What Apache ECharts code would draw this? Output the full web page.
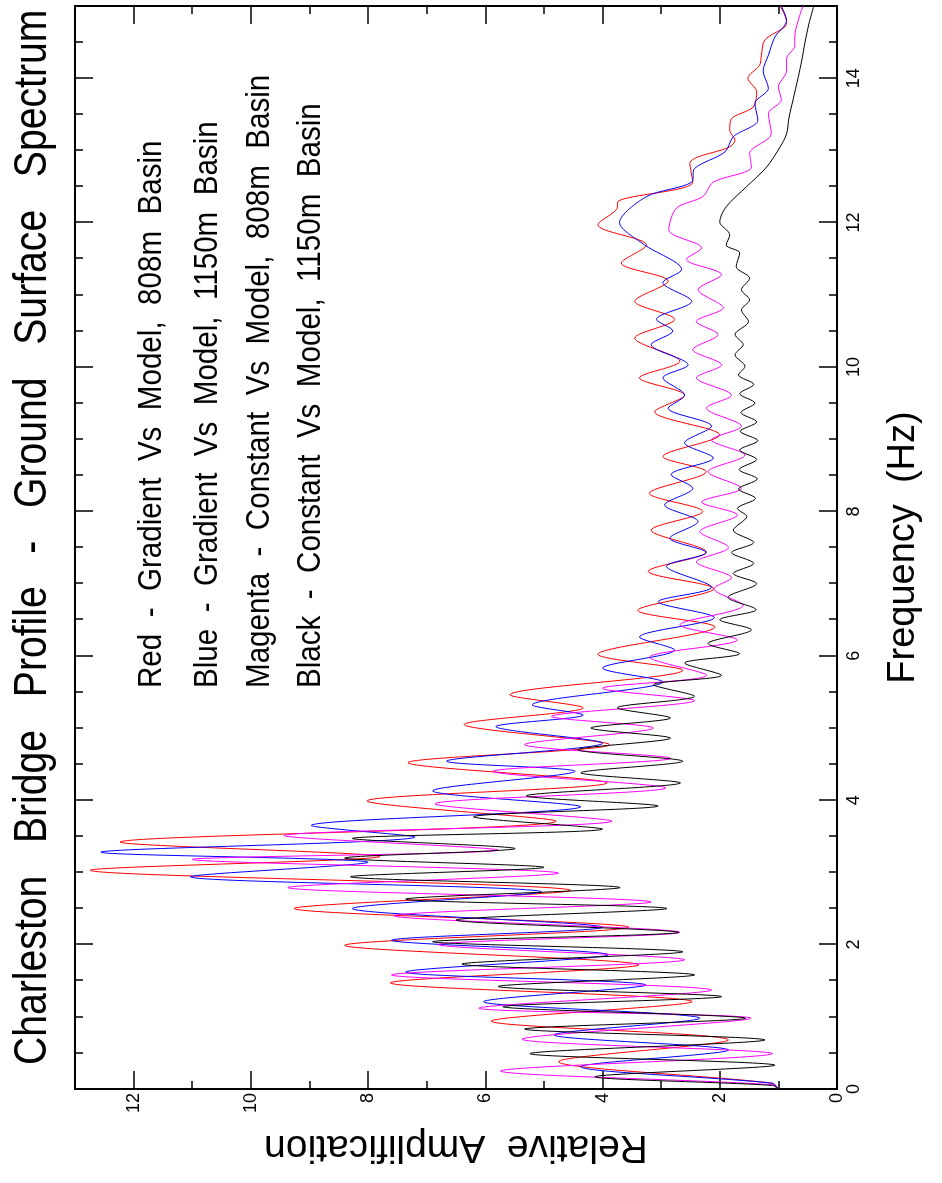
<!DOCTYPE html>
<html>
<head>
<meta charset="utf-8">
<script src="https://cdn.jsdelivr.net/npm/echarts@6/dist/echarts.min.js"></script>
<style>
html,body{margin:0;padding:0;width:942px;height:1183px;overflow:hidden;background:#fff;}
#wrap{position:absolute;left:0;top:0;width:1183px;height:942px;transform-origin:0 0;transform:translate(0px,1183px) rotate(-90deg);}
#chart{width:1183px;height:942px;}
</style>
</head>
<body>
<div id="wrap"><div id="chart"></div></div>
<script>
// ---- text ----
const titleText = 'Charleston   Bridge   Profile   -   Ground   Surface   Spectrum';
const legendLines = [
  'Red  -  Gradient  Vs  Model,  808m  Basin',
  'Blue  -  Gradient  Vs  Model,  1150m  Basin',
  'Magenta  -  Constant  Vs  Model,  808m  Basin',
  'Black  -  Constant  Vs  Model,  1150m  Basin'
];
const xName = 'Frequency  (Hz)';
const yName = 'Relative  Amplification';

// ---- data: [frequency Hz, relative amplification] read at the extrema of each curve ----
const redPts = [[0,1.0],[0.08,1.1],[0.38,4.75],[0.68,1.85],[0.94,5.9],[1.21,2.47],[1.47,7.62],[1.72,3.38],[1.99,8.4],[2.24,3.55],[2.50,9.26],[2.75,4.54],[3.03,12.74],[3.22,7.8],[3.42,12.23],[3.71,4.79],[3.99,8.02],[4.24,3.92],[4.52,7.32],[4.77,3.88],[5.05,6.36],[5.28,4.33],[5.46,5.58],[5.80,2.63],[6.02,4.08],[6.40,2.08],[6.63,3.40],[6.93,2.10],[7.17,3.22],[7.44,2.23],[7.74,3.17],[8.00,2.29],[8.25,3.20],[8.55,2.23],[8.76,2.97],[9.06,2.00],[9.38,3.11],[9.61,2.60],[9.85,3.37],[10.08,2.68],[10.40,3.45],[10.66,2.77],[10.91,3.45],[11.19,2.88],[11.44,3.68],[11.69,3.25],[11.97,4.08],[12.20,3.75],[12.29,3.74],[12.56,2.46],[12.82,2.51],[13.05,1.83],[13.14,1.74],[13.28,1.83],[13.44,1.80],[13.60,1.43],[13.81,1.37],[14.00,1.52],[14.18,1.32],[14.32,1.29],[14.53,1.23],[14.71,0.89],[14.78,0.86],[15.0,0.97]];

const bluePts = [[0,1.0],[0.08,1.1],[0.31,4.37],[0.54,1.85],[0.75,4.83],[0.98,2.34],[1.21,6.03],[1.44,3.26],[1.62,7.36],[1.86,3.9],[2.06,7.6],[2.24,4.0],[2.50,8.27],[2.73,5.04],[2.94,11.03],[3.14,8.0],[3.28,12.56],[3.49,7.2],[3.65,8.97],[3.91,4.37],[4.13,6.9],[4.40,4.47],[4.54,6.66],[4.79,4.0],[5.02,5.82],[5.18,4.33],[5.32,5.2],[5.64,2.97],[5.83,4.0],[6.08,2.77],[6.26,3.37],[6.53,2.09],[6.75,3.05],[6.95,2.14],[7.24,2.91],[7.43,2.23],[7.63,2.85],[7.86,2.37],[8.09,2.94],[8.32,2.46],[8.51,2.83],[8.74,2.11],[8.95,2.6],[9.18,2.14],[9.43,2.88],[9.61,2.6],[9.85,2.97],[10.03,2.54],[10.31,3.17],[10.50,2.8],[10.66,3.08],[10.91,2.48],[11.17,2.97],[11.35,2.65],[11.70,3.3],[12.00,3.71],[12.36,3.25],[12.56,2.48],[12.75,2.43],[12.98,1.91],[13.19,1.77],[13.42,1.35],[13.65,1.4],[13.86,1.17],[14.10,1.26],[14.32,1.17],[14.57,1.06],[14.80,0.86],[15.0,0.95]];

const magentaPts = [[0,1.0],[0.06,1.1],[0.25,5.74],[0.49,1.1],[0.69,5.37],[0.98,1.47],[1.12,6.11],[1.37,2.14],[1.58,7.6],[1.79,2.6],[2.00,6.8],[2.17,2.68],[2.40,7.56],[2.59,3.17],[2.79,9.37],[2.99,4.75],[3.18,11.0],[3.31,5.78],[3.51,9.43],[3.71,3.84],[3.95,6.86],[4.17,2.92],[4.40,5.87],[4.58,2.84],[4.77,5.33],[5.00,3.13],[5.16,4.87],[5.38,2.43],[5.55,4.0],[5.73,2.22],[5.98,3.2],[6.22,1.7],[6.43,2.68],[6.70,1.6],[6.93,2.1],[7.08,1.8],[7.30,2.4],[7.50,1.85],[7.72,2.34],[7.95,1.7],[8.13,2.31],[8.32,1.63],[8.55,2.2],[8.78,1.57],[8.99,2.14],[9.18,1.63],[9.43,2.23],[9.61,1.8],[9.85,2.4],[10.03,1.97],[10.24,2.46],[10.45,2.03],[10.63,2.4],[10.82,1.94],[11.07,2.37],[11.28,1.97],[11.49,2.57],[11.65,2.31],[11.90,2.87],[12.20,2.74],[12.36,2.29],[12.56,2.11],[12.77,1.46],[12.96,1.49],[13.23,1.12],[13.51,1.17],[13.70,0.95],[13.88,1.0],[14.10,0.86],[14.27,0.86],[14.45,0.72],[14.57,0.72],[15.0,0.58]];

const blackPts = [[0,1.0],[0.05,1.1],[0.17,4.13],[0.33,1.06],[0.49,5.24],[0.68,1.23],[0.83,5.33],[0.98,1.56],[1.14,5.7],[1.28,1.97],[1.42,5.78],[1.58,2.43],[1.73,6.4],[1.90,2.63],[2.04,6.9],[2.17,2.7],[2.34,6.5],[2.50,2.9],[2.63,7.36],[2.79,3.7],[2.94,8.3],[3.07,5.0],[3.20,8.4],[3.33,5.49],[3.47,8.27],[3.60,4.0],[3.77,6.2],[3.92,3.05],[4.06,5.3],[4.24,2.67],[4.38,4.37],[4.54,2.63],[4.70,4.42],[4.86,2.84],[5.00,4.2],[5.14,2.84],[5.28,3.75],[5.44,2.43],[5.60,3.13],[5.73,1.97],[5.90,2.6],[6.03,1.66],[6.17,2.2],[6.36,1.46],[6.50,2.0],[6.64,1.38],[6.81,1.86],[7.00,1.37],[7.14,1.77],[7.28,1.42],[7.43,1.8],[7.57,1.42],[7.74,1.77],[7.93,1.54],[8.04,1.7],[8.18,1.39],[8.31,1.68],[8.45,1.36],[8.58,1.67],[8.72,1.37],[8.85,1.66],[8.98,1.35],[9.11,1.65],[9.24,1.37],[9.37,1.64],[9.50,1.4],[9.63,1.66],[9.76,1.42],[9.89,1.68],[10.01,1.57],[10.17,1.74],[10.31,1.6],[10.45,1.74],[10.63,1.51],[10.79,1.63],[10.93,1.49],[11.07,1.63],[11.23,1.49],[11.39,1.72],[11.58,1.66],[11.69,1.89],[11.83,1.83],[12.01,2.0],[12.22,1.89],[12.50,1.54],[12.77,1.2],[13.05,0.97],[13.23,0.86],[13.45,0.82],[13.70,0.75],[14.02,0.66],[14.25,0.6],[14.48,0.55],[14.75,0.48],[14.99,0.4]];

const seriesNames = ['Red', 'Blue', 'Magenta', 'Black'];
const seriesColors = ['#ff0000', '#0000ff', '#ff00ff', '#000000'];
const seriesData = [redPts, bluePts, magentaPts, blackPts];

// ---- axis ranges ----
const freqMin = 0, freqMax = 15;
const ampMin = 0, ampMax = 13;

const FONT = 'Liberation Sans, Arial, sans-serif';
const ink = '#000';

function freqAxis(pos, interval, tickLen, withLabels) {
  const ax = {
    type: 'value', position: pos, min: freqMin, max: freqMax, interval: interval,
    axisLine: { show: true, onZero: false, lineStyle: { color: ink, width: 2 } },
    axisTick: { show: true, inside: true, length: tickLen, lineStyle: { color: ink, width: 1.5 } },
    axisLabel: { show: false },
    splitLine: { show: false }
  };
  if (withLabels) {
    ax.axisLabel = { show: true, showMaxLabel: false, margin: 8, fontSize: 18, color: ink, fontFamily: FONT };
    ax.name = xName;
    ax.nameLocation = 'middle';
    ax.nameGap = 48;
    ax.nameTextStyle = { fontSize: 38, color: ink, fontFamily: FONT };
  }
  return ax;
}
function ampAxis(pos, interval, tickLen, withLabels) {
  const ax = {
    type: 'value', position: pos, min: ampMin, max: ampMax, interval: interval,
    axisLine: { show: true, onZero: false, lineStyle: { color: ink, width: 2 } },
    axisTick: { show: true, inside: true, length: tickLen, lineStyle: { color: ink, width: 1.5 } },
    axisLabel: { show: false },
    splitLine: { show: false }
  };
  if (withLabels) {
    ax.axisLabel = { show: true, showMaxLabel: false, margin: 4, fontSize: 18, color: ink, fontFamily: FONT };
    ax.name = yName;
    ax.nameLocation = 'middle';
    ax.nameRotate = 90;
    ax.nameGap = 38;
    ax.nameTextStyle = { fontSize: 39, color: ink, fontFamily: FONT };
  }
  return ax;
}

const legendY = [152, 208, 260, 311];
const graphics = [
  { type: 'text', x: 118, y: 33, scaleX: 0.833, scaleY: 1,
    style: { text: titleText, fill: ink, font: '47px ' + FONT, textAlign: 'left', textVerticalAlign: 'middle' } }
];
legendLines.forEach((t, i) => {
  graphics.push({ type: 'text', x: 495, y: legendY[i], scaleX: 0.87, scaleY: 1,
    style: { text: t, fill: ink, font: '34px ' + FONT, textAlign: 'left', textVerticalAlign: 'middle' } });
});

const chart = echarts.init(document.getElementById('chart'), null, { renderer: 'canvas', devicePixelRatio: 1 });
chart.setOption({
  animation: false,
  backgroundColor: '#ffffff',
  grid: { left: 94, right: 6, top: 75, bottom: 105, containLabel: false },
  xAxis: [
    freqAxis('bottom', 0.5, 8, false),
    freqAxis('bottom', 2, 18, true),
    freqAxis('top', 0.5, 8, false),
    freqAxis('top', 2, 18, false)
  ],
  yAxis: [
    ampAxis('left', 1, 8, false),
    ampAxis('left', 2, 18, true),
    ampAxis('right', 1, 8, false),
    ampAxis('right', 2, 18, false)
  ],
  graphic: graphics,
  series: seriesData.map((d, i) => ({
    name: seriesNames[i], type: 'line', xAxisIndex: 1, yAxisIndex: 1,
    data: d, symbol: 'none', showSymbol: false, smooth: 0.3,
    lineStyle: { color: seriesColors[i], width: 1 }, z: 2
  }))
});
</script>
</body>
</html>
